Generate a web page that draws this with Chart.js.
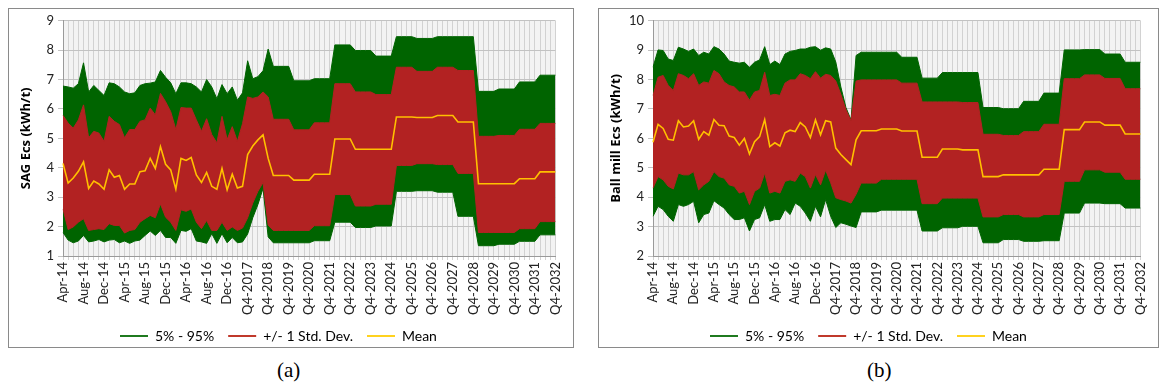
<!DOCTYPE html>
<html>
<head>
<meta charset="utf-8">
<script src="https://cdn.jsdelivr.net/npm/chart.js@4.4.1/dist/chart.umd.min.js"></script>
<style>
    body { margin: 0; background: #fff; width: 1159px; height: 387px; overflow: hidden; position: relative; }
    .box { position: absolute; border: 1px solid #8a8a8a; box-sizing: border-box; background: #fff; }
    .box canvas { position: absolute; left: 0; top: 0; }
    .cap { position: absolute; top: 358px; font-family: 'Liberation Serif', serif; font-size: 21px; color: #000; }
</style>
</head>
<body>
<div class="box" style="left:8px;top:8px;width:566px;height:340px;"><canvas id="sagChart" width="564" height="338"></canvas></div>
<div class="box" style="left:598px;top:8px;width:561px;height:340px;"><canvas id="ballChart" width="559" height="338"></canvas></div>
<div class="cap" style="left:277px;">(a)</div>
<div class="cap" style="left:867px;">(b)</div>
<script>
// Categories: monthly Apr-14 .. Dec-16, then quarterly Q1-2017 .. Q4-2032
const monthNames = ['Jan', 'Feb', 'Mar', 'Apr', 'May', 'Jun', 'Jul', 'Aug', 'Sep', 'Oct', 'Nov', 'Dec'];
const labels = [];
for (let y = 14; y <= 16; y++) {
    for (let m = (y === 14 ? 3 : 0); m < 12; m++) labels.push(monthNames[m] + '-' + y);
}
for (let y = 2017; y <= 2032; y++) {
    for (let q = 1; q <= 4; q++) labels.push('Q' + q + '-' + y);
}

// (a) SAG Ecs (kWh/t)
const sagP95 = [
    6.78, 6.75, 6.71, 6.86, 7.57, 6.58, 6.80, 6.63, 6.46, 6.89,
    6.86, 6.75, 6.58, 6.52, 6.55, 6.80, 6.86, 6.88, 6.92, 7.31,
    7.08, 6.89, 6.52, 6.89, 6.89, 6.86, 6.75, 6.58, 7.00, 6.75,
    6.35, 6.83, 6.52, 6.75, 6.30, 6.55,
    7.64, 7.03, 7.10, 7.30, 8.04,
    7.45, 7.45, 7.45, 7.45,  6.96, 6.96, 6.96, 6.96,  7.03, 7.03, 7.03, 7.03,
    8.18, 8.18, 8.18, 8.18,  7.99, 7.99, 7.99, 7.99,  7.80, 7.80, 7.80, 7.80,
    8.46, 8.46, 8.46, 8.46,  8.40, 8.40, 8.40, 8.40,  8.46, 8.46, 8.46, 8.46,
    8.46, 8.46, 8.46, 8.46,  6.60, 6.60, 6.60, 6.60,  6.68, 6.68, 6.68, 6.68,
    6.92, 6.92, 6.92, 6.92,  7.15, 7.15, 7.15, 7.15
];
const sagHi = [
    5.78, 5.52, 5.35, 5.63, 6.14, 5.02, 5.24, 5.18, 4.90, 5.75,
    5.58, 5.47, 5.02, 5.30, 5.30, 5.58, 5.63, 6.03, 5.80, 6.53,
    6.25, 5.91, 5.30, 6.05, 6.03, 6.03, 5.63, 5.24, 5.67, 5.13,
    4.85, 5.75, 4.96, 5.40, 4.90, 5.50,
    6.41, 6.36, 6.41, 6.58, 6.41,
    5.65, 5.65, 5.65, 5.65,  5.29, 5.29, 5.29, 5.29,  5.53, 5.53, 5.53, 5.53,
    6.86, 6.86, 6.86, 6.86,  6.58, 6.58, 6.58, 6.58,  6.49, 6.49, 6.49, 6.49,
    7.42, 7.42, 7.42, 7.42,  7.28, 7.28, 7.28, 7.28,  7.42, 7.42, 7.42, 7.42,
    7.31, 7.31, 7.31, 7.31,  5.07, 5.07, 5.07, 5.07,  5.10, 5.10, 5.10, 5.10,
    5.31, 5.31, 5.31, 5.31,  5.51, 5.51, 5.51, 5.51
];
const sagMean = [
    4.15, 3.48, 3.65, 3.88, 4.20, 3.30, 3.55, 3.45, 3.27, 3.93,
    3.68, 3.74, 3.27, 3.45, 3.45, 3.87, 3.90, 4.32, 3.98, 4.72,
    4.12, 3.93, 3.27, 4.32, 4.25, 4.35, 3.76, 3.50, 3.84, 3.37,
    3.27, 3.98, 3.25, 3.78, 3.31, 3.37,
    4.45, 4.74, 4.95, 5.12, 4.32,
    3.74, 3.74, 3.74, 3.74,  3.58, 3.58, 3.58, 3.58,  3.78, 3.78, 3.78, 3.78,
    4.98, 4.98, 4.98, 4.98,  4.63, 4.63, 4.63, 4.63,  4.63, 4.63, 4.63, 4.63,
    5.73, 5.73, 5.73, 5.73,  5.71, 5.71, 5.71, 5.71,  5.78, 5.78, 5.78, 5.78,
    5.56, 5.56, 5.56, 5.56,  3.46, 3.46, 3.46, 3.46,  3.46, 3.46, 3.46, 3.46,
    3.63, 3.63, 3.63, 3.63,  3.86, 3.86, 3.86, 3.86
];
const sagLo = [
    2.60, 1.90, 1.99, 2.15, 2.27, 1.87, 1.90, 1.93, 1.90, 2.10,
    2.04, 2.04, 1.78, 1.87, 1.90, 2.15, 2.27, 2.38, 2.30, 2.77,
    2.32, 2.15, 1.87, 2.57, 2.52, 2.60, 2.15, 1.93, 2.21, 1.87,
    1.87, 2.15, 1.87, 1.99, 1.87, 1.95,
    2.30, 2.80, 3.20, 3.50, 2.05,
    1.87, 1.87, 1.87, 1.87,  1.87, 1.87, 1.87, 1.87,  2.03, 2.03, 2.03, 2.03,
    3.09, 3.09, 3.09, 3.09,  2.70, 2.70, 2.70, 2.70,  2.76, 2.76, 2.76, 2.76,
    4.08, 4.08, 4.08, 4.08,  4.14, 4.14, 4.14, 4.14,  4.11, 4.11, 4.11, 4.11,
    3.81, 3.81, 3.81, 3.81,  1.80, 1.80, 1.80, 1.80,  1.80, 1.80, 1.80, 1.80,
    1.93, 1.93, 1.93, 1.93,  2.17, 2.17, 2.17, 2.17
];
const sagP5 = [
    1.80, 1.54, 1.45, 1.51, 1.70, 1.48, 1.51, 1.56, 1.48, 1.54,
    1.56, 1.45, 1.51, 1.43, 1.51, 1.54, 1.70, 1.85, 1.70, 1.87,
    1.63, 1.63, 1.43, 1.87, 1.84, 1.93, 1.51, 1.48, 1.43, 1.76,
    1.43, 1.76, 1.45, 1.63, 1.45, 1.48,
    1.75, 2.30, 2.75, 3.30, 1.65,
    1.45, 1.45, 1.45, 1.45,  1.45, 1.45, 1.45, 1.45,  1.52, 1.52, 1.52, 1.52,
    2.15, 2.15, 2.15, 2.15,  1.97, 1.97, 1.97, 1.97,  2.02, 2.02, 2.02, 2.02,
    3.20, 3.20, 3.20, 3.20,  3.22, 3.22, 3.22, 3.22,  3.17, 3.17, 3.17, 3.17,
    2.35, 2.35, 2.35, 2.35,  1.35, 1.35, 1.35, 1.35,  1.40, 1.40, 1.40, 1.40,
    1.50, 1.50, 1.50, 1.50,  1.72, 1.72, 1.72, 1.72
];

// (b) Ball mill Ecs (kWh/t)
const ballP95 = [
    8.42, 9.01, 8.99, 8.70, 8.65, 9.10, 9.04, 8.96, 9.04, 8.82,
    8.93, 8.87, 9.12, 9.04, 8.87, 8.63, 8.59, 8.56, 8.59, 8.42,
    8.59, 8.67, 9.12, 8.51, 8.63, 8.51, 8.87, 8.96, 8.99, 9.04,
    9.04, 9.10, 9.12, 9.00, 9.08, 9.04,
    8.60, 7.75, 7.05, 6.63, 8.82,
    8.93, 8.93, 8.93, 8.93,  8.93, 8.93, 8.93, 8.93,  8.76, 8.76, 8.76, 8.76,
    8.05, 8.05, 8.05, 8.05,  8.24, 8.24, 8.24, 8.24,  8.24, 8.24, 8.24, 8.24,
    7.05, 7.05, 7.05, 7.05,  7.01, 7.01, 7.01, 7.01,  7.26, 7.26, 7.26, 7.26,
    7.54, 7.54, 7.54, 7.54,  9.01, 9.01, 9.01, 9.01,  9.02, 9.02, 9.02, 9.02,
    8.87, 8.87, 8.87, 8.87,  8.59, 8.59, 8.59, 8.59
];
const ballHi = [
    7.46, 8.08, 8.14, 7.80, 7.63, 8.20, 8.14, 8.03, 8.20, 7.80,
    7.92, 7.88, 8.31, 8.20, 7.92, 7.80, 7.75, 7.58, 7.58, 7.30,
    7.58, 7.63, 8.25, 7.46, 7.50, 7.46, 7.88, 7.99, 7.99, 8.20,
    8.14, 8.03, 8.27, 8.05, 8.18, 8.14,
    7.95, 7.50, 6.98, 6.60, 7.95,
    7.99, 7.99, 7.99, 7.99,  7.99, 7.99, 7.99, 7.99,  7.88, 7.88, 7.88, 7.88,
    7.24, 7.24, 7.24, 7.24,  7.24, 7.24, 7.24, 7.24,  7.22, 7.22, 7.22, 7.22,
    6.14, 6.14, 6.14, 6.14,  6.10, 6.10, 6.10, 6.10,  6.23, 6.23, 6.23, 6.23,
    6.48, 6.48, 6.48, 6.48,  8.03, 8.03, 8.03, 8.03,  8.16, 8.16, 8.16, 8.16,
    8.04, 8.04, 8.04, 8.04,  7.69, 7.69, 7.69, 7.69
];
const ballMean = [
    5.87, 6.48, 6.34, 5.97, 5.94, 6.60, 6.39, 6.42, 6.60, 5.97,
    6.23, 6.11, 6.64, 6.45, 6.43, 6.08, 6.03, 5.77, 6.00, 5.47,
    5.89, 6.06, 6.64, 5.72, 5.85, 5.74, 6.19, 6.28, 6.23, 6.54,
    6.39, 6.03, 6.63, 6.12, 6.60, 6.56,
    5.67, 5.45, 5.28, 5.11, 5.95,
    6.26, 6.26, 6.26, 6.26,  6.32, 6.32, 6.32, 6.32,  6.25, 6.25, 6.25, 6.25,
    5.36, 5.36, 5.36, 5.36,  5.64, 5.64, 5.64, 5.64,  5.61, 5.61, 5.61, 5.61,
    4.70, 4.70, 4.70, 4.70,  4.76, 4.76, 4.76, 4.76,  4.76, 4.76, 4.76, 4.76,
    4.95, 4.95, 4.95, 4.95,  6.30, 6.30, 6.30, 6.30,  6.56, 6.56, 6.56, 6.56,
    6.45, 6.45, 6.45, 6.45,  6.15, 6.15, 6.15, 6.15
];
const ballLo = [
    4.31, 4.70, 4.59, 4.37, 4.28, 4.82, 4.76, 4.76, 4.87, 4.25,
    4.42, 4.54, 4.87, 4.70, 4.65, 4.42, 4.37, 4.14, 4.20, 3.75,
    4.20, 4.31, 4.82, 4.14, 4.20, 4.14, 4.54, 4.59, 4.54, 4.82,
    4.70, 4.31, 4.77, 4.42, 4.92, 4.49,
    3.98, 3.92, 3.87, 3.80, 4.10,
    4.48, 4.48, 4.48, 4.48,  4.61, 4.61, 4.61, 4.61,  4.61, 4.61, 4.61, 4.61,
    3.78, 3.78, 3.78, 3.78,  3.97, 3.97, 3.97, 3.97,  3.97, 3.97, 3.97, 3.97,
    3.33, 3.33, 3.33, 3.33,  3.41, 3.41, 3.41, 3.41,  3.33, 3.33, 3.33, 3.33,
    3.41, 3.41, 3.41, 3.41,  4.54, 4.54, 4.54, 4.54,  4.93, 4.93, 4.93, 4.93,
    4.85, 4.85, 4.85, 4.85,  4.61, 4.61, 4.61, 4.61
];
const ballP5 = [
    3.35, 3.69, 3.58, 3.35, 3.18, 3.75, 3.69, 3.75, 3.86, 3.13,
    3.41, 3.46, 3.88, 3.75, 3.63, 3.41, 3.24, 3.24, 3.30, 2.85,
    3.24, 3.30, 3.75, 3.18, 3.24, 3.24, 3.58, 3.41, 3.80, 3.69,
    3.46, 3.18, 3.69, 3.33, 3.92, 3.35,
    2.97, 3.13, 3.08, 3.02, 2.97,
    3.50, 3.50, 3.50, 3.50,  3.56, 3.56, 3.56, 3.56,  3.56, 3.56, 3.56, 3.56,
    2.85, 2.85, 2.85, 2.85,  2.96, 2.96, 2.96, 2.96,  3.01, 3.01, 3.01, 3.01,
    2.45, 2.45, 2.45, 2.45,  2.56, 2.56, 2.56, 2.56,  2.50, 2.50, 2.50, 2.50,
    2.52, 2.52, 2.52, 2.52,  3.46, 3.46, 3.46, 3.46,  3.80, 3.80, 3.80, 3.80,
    3.78, 3.78, 3.78, 3.78,  3.63, 3.63, 3.63, 3.63
];

const GREEN = '#006400';
const RED = '#b22222';
const YELLOW = '#ffc000';
const FONT = 'Lato, "Open Sans", sans-serif';

// light grey plot area like the Excel original
const plotBackground = {
    id: 'plotBackground',
    beforeDraw(chart) {
        const { ctx, chartArea: a } = chart;
        ctx.save();
        ctx.fillStyle = '#f3f3f3';
        ctx.fillRect(a.left, a.top, a.right - a.left, a.bottom - a.top);
        ctx.restore();
    }
};

// move the legend off-centre, where the original has it
const legendShift = {
    id: 'legendShift',
    afterLayout(chart, args, opts) {
        const l = chart.legend;
        l.left += opts.dx; l.right += opts.dx;
        l.top += opts.dy; l.bottom += opts.dy;
    }
};

function renderChart(canvasId, s, yMin, yMax, yTitle, padRight) {
    const canvas = document.getElementById(canvasId);
    return new Chart(canvas, {
        type: 'line',
        data: {
            labels: labels,
            datasets: [
                { label: 'Mean', data: s.mean, borderColor: YELLOW, borderWidth: 1.6, fill: false },
                { label: '+/- 1 Std. Dev.', data: s.hi, borderColor: RED, backgroundColor: RED, borderWidth: 1, fill: 2 },
                { label: 'lo', data: s.lo, borderColor: RED, borderWidth: 1, fill: false },
                { label: '5% - 95%', data: s.p95, borderColor: GREEN, backgroundColor: GREEN, borderWidth: 1, fill: 4 },
                { label: 'p5', data: s.p5, borderColor: GREEN, borderWidth: 1, fill: false }
            ]
        },
        options: {
            responsive: false,
            animation: false,
            elements: { point: { radius: 0 }, line: { tension: 0 } },
            layout: { padding: { top: 9, right: padRight, left: 0, bottom: 0 } },
            plugins: {
                tooltip: { enabled: false },
                legendShift: { dx: 97, dy: -2 },
                legend: {
                    position: 'bottom',
                    align: 'start',
                    maxHeight: 30,
                    labels: {
                        font: { family: FONT, size: 14 },
                        color: '#222',
                        usePointStyle: true,
                        pointStyleWidth: 28,
                        padding: 14,
                        generateLabels: () => [
                            { text: '5% - 95%', strokeStyle: '#1f7a1f', fillStyle: GREEN, lineWidth: 2, pointStyle: 'line', datasetIndex: 3 },
                            { text: '+/- 1 Std. Dev.', strokeStyle: '#c0392b', fillStyle: RED, lineWidth: 2, pointStyle: 'line', datasetIndex: 1 },
                            { text: 'Mean', strokeStyle: '#ffd21f', fillStyle: YELLOW, lineWidth: 2, pointStyle: 'line', datasetIndex: 0 }
                        ]
                    }
                }
            },
            scales: {
                x: {
                    grid: { color: '#d2d2d2', tickLength: 4 },
                    border: { color: '#9a9a9a' },
                    ticks: {
                        autoSkip: false,
                        maxRotation: 90,
                        minRotation: 90,
                        padding: 2,
                        color: '#222',
                        font: { family: FONT, size: 13 },
                        callback: (v, i) => (i % 4 === 0 ? labels[i] : '')
                    },
                    afterFit: (scale) => { scale.height = 338 - 247 - scale.chart.legend.height; }
                },
                y: {
                    min: yMin,
                    max: yMax,
                    grid: { color: '#c2c2c2', tickLength: 5 },
                    border: { color: '#9a9a9a' },
                    ticks: { stepSize: 1, padding: 4, color: '#222', font: { family: FONT, size: 13 } },
                    title: {
                        display: true,
                        text: yTitle,
                        color: '#000',
                        font: { family: '"Open Sans", Lato, sans-serif', size: 13, weight: 'bold' },
                        padding: { top: 9, bottom: 0 }
                    },
                    afterFit: (scale) => { scale.width = 54; }
                }
            }
        },
        plugins: [plotBackground, legendShift]
    });
}

renderChart('sagChart', { p95: sagP95, hi: sagHi, mean: sagMean, lo: sagLo, p5: sagP5 }, 1, 9, 'SAG Ecs (kWh/t)', 14);
renderChart('ballChart', { p95: ballP95, hi: ballHi, mean: ballMean, lo: ballLo, p5: ballP5 }, 2, 10, 'Ball mill Ecs (kWh/t)', 9);
</script>
</body>
</html>
